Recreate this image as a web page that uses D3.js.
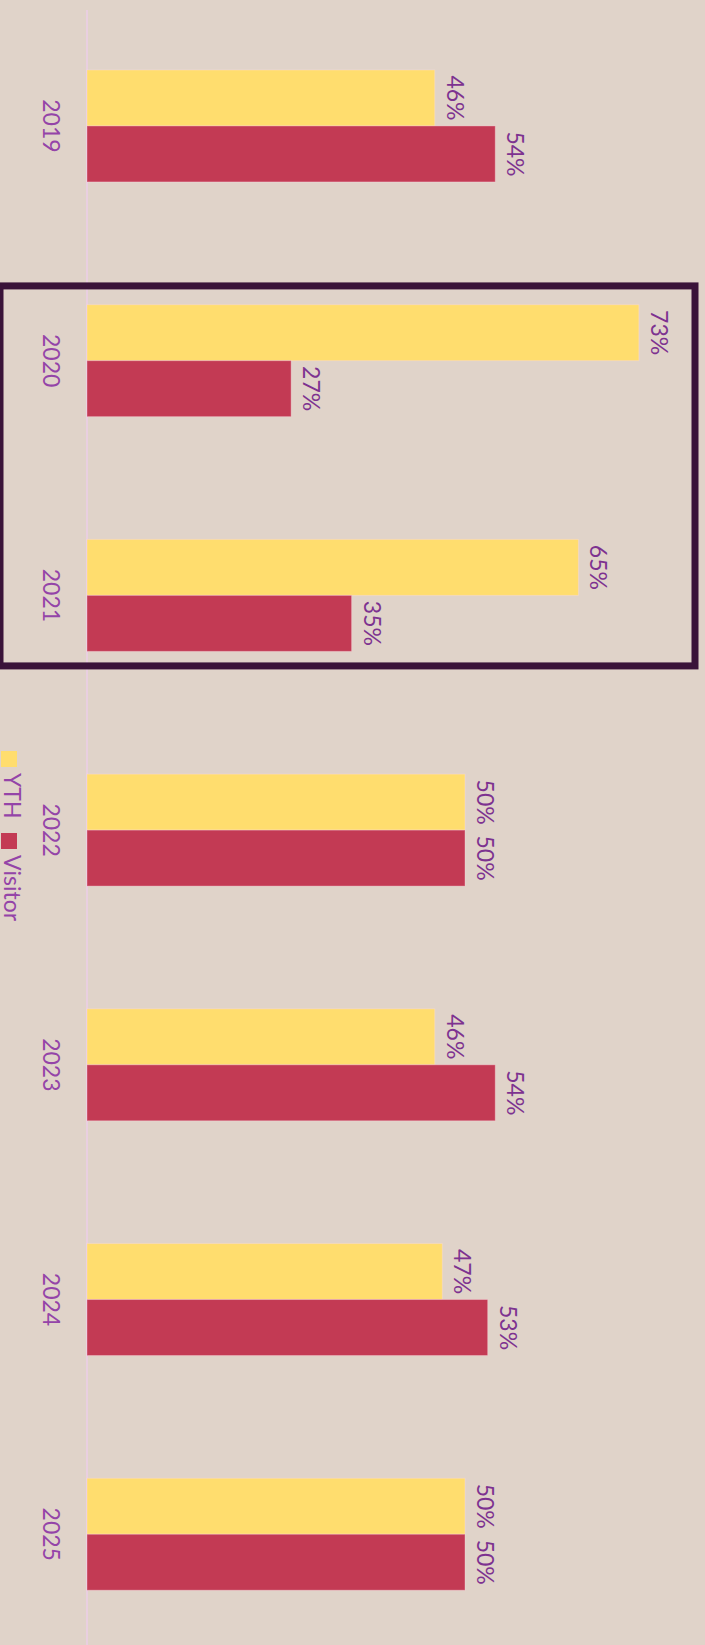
<!DOCTYPE html>
<html>
<head>
<meta charset="utf-8">
<script src="https://cdn.jsdelivr.net/npm/d3@7"></script>
<style>
  html, body { margin: 0; padding: 0; background: #e0d3c9; }
  svg { display: block; }
</style>
</head>
<body>
<svg class="chart"></svg>
<script>
// data
var years = ["2019", "2020", "2021", "2022", "2023", "2024", "2025"];
var yth = [46, 73, 65, 50, 46, 47, 50];
var visitor = [54, 27, 35, 50, 54, 53, 50];
var series = ["YTH", "Visitor"];
var highlight = ["2020", "2021"];

var W = 705, H = 1645;
var colors = { YTH: "#ffdd6e", Visitor: "#c33a54" };
var font = "Lato, 'Open Sans', sans-serif";

var svg = d3.select("svg.chart")
    .attr("width", W)
    .attr("height", H);

svg.append("rect")
    .attr("width", W).attr("height", H)
    .attr("fill", "#e0d3c9");

// value axis runs left → right, categories top → bottom
var x = d3.scaleLinear().domain([0, 100]).range([87, 843]);
var y = d3.scaleBand()
    .domain(years)
    .range([8.6, 1651.6])
    .paddingInner(0.523)
    .paddingOuter(0.2615);
var ySub = d3.scaleBand().domain(series).range([0, y.bandwidth()]);

var rows = years.map(function (d, i) {
    return { year: d, YTH: yth[i], Visitor: visitor[i] };
});

// baseline
svg.append("line")
    .attr("x1", x(0)).attr("x2", x(0))
    .attr("y1", 10).attr("y2", H)
    .attr("stroke", "#e9cfe0")
    .attr("stroke-width", 2);

var groups = svg.selectAll("g.year")
    .data(rows)
    .enter()
    .append("g")
    .attr("class", "year")
    .attr("transform", function (d) { return "translate(0," + y(d.year) + ")"; });

groups.selectAll("rect.bar")
    .data(function (d) { return series.map(function (s) { return { key: s, value: d[s] }; }); })
    .enter()
    .append("rect")
    .attr("class", "bar")
    .attr("x", x(0))
    .attr("y", function (d) { return ySub(d.key); })
    .attr("width", function (d) { return x(d.value) - x(0); })
    .attr("height", ySub.bandwidth())
    .attr("fill", function (d) { return colors[d.key]; })
    .attr("stroke", "rgba(255,220,230,0.35)")
    .attr("stroke-width", 1);

// value labels, rotated a quarter turn
groups.selectAll("text.val")
    .data(function (d) { return series.map(function (s) { return { key: s, value: d[s] }; }); })
    .enter()
    .append("text")
    .attr("class", "val")
    .attr("transform", function (d) {
        return "translate(" + (x(d.value) + 12) + "," + (ySub(d.key) + ySub.bandwidth() / 2) + ") rotate(90)";
    })
    .attr("text-anchor", "middle")
    .attr("font-family", font)
    .attr("font-size", 23)
    .attr("fill", "#7d3290")
    .text(function (d) { return d.value + "%"; });

// year labels
groups.append("text")
    .attr("transform", "translate(43," + (y.bandwidth() / 2) + ") rotate(90)")
    .attr("text-anchor", "middle")
    .attr("font-family", font)
    .attr("font-size", 23)
    .attr("fill", "#9444a8")
    .text(function (d) { return d.year; });

// highlight box round 2020-2021
var step = y.step();
svg.append("rect")
    .attr("x", 0)
    .attr("y", y(highlight[0]) - 0.08 * step)
    .attr("width", 695)
    .attr("height", (y(highlight[1]) + y.bandwidth() + 0.062 * step) - (y(highlight[0]) - 0.08 * step))
    .attr("fill", "none")
    .attr("stroke", "#3a1339")
    .attr("stroke-width", 7);

// legend, rotated like the rest
var legend = svg.append("g")
    .attr("transform", "translate(0,751)");
var legendPos = [0, 82];
series.forEach(function (s, i) {
    var g = legend.append("g").attr("transform", "translate(0," + legendPos[i] + ")");
    g.append("rect")
        .attr("x", 1).attr("y", 0)
        .attr("width", 16).attr("height", 16)
        .attr("fill", colors[s]);
    g.append("text")
        .attr("transform", "translate(4,22) rotate(90)")
        .attr("font-family", font)
        .attr("font-size", 23)
        .attr("fill", "#9444a8")
        .text(s);
});
</script>
</body>
</html>
